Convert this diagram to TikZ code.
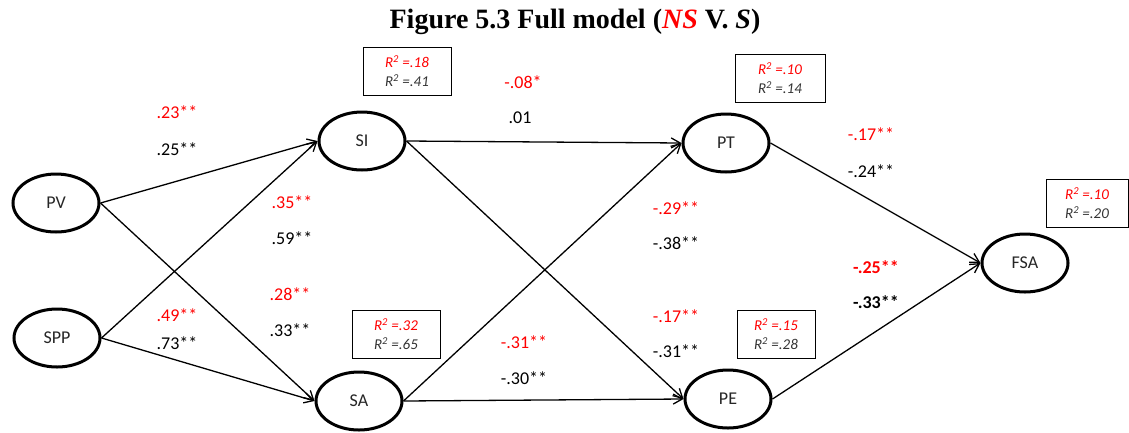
\documentclass[tikz,border=0pt]{standalone}
\usepackage{fontspec}
\setmainfont{Carlito}
\newfontfamily\titlefont{Liberation Serif}
\usetikzlibrary{arrows.meta,shapes.geometric}
\definecolor{nsred}{RGB}{255,0,0}
\begin{document}
\begin{tikzpicture}[x=1pt,y=-1pt,
  lat/.style={draw,ellipse,line width=3pt,minimum width=86pt,minimum height=58pt,inner sep=0pt,font=\fontsize{18}{20}\selectfont,text=black!85},
  path/.style={line width=1.3pt,-{Straight Barb[length=9pt,width=10pt,line width=1.3pt]}},
  rbox/.style={draw,line width=0.8pt,minimum width=86pt,minimum height=48pt,inner sep=2pt,align=center,font=\fontsize{15}{19}\selectfont\itshape},
  ns/.style={text=nsred,font=\fontsize{18}{20}\selectfont},
  sv/.style={text=black,font=\fontsize{18}{20}\selectfont}]
\useasboundingbox (0,0) rectangle (1129,432);
\node[font=\titlefont\bfseries\fontsize{28}{30}\selectfont] (title) at (575,22) {Figure 5.3 Full model ({\color{nsred}\itshape NS} V. \textit{S})};

\node[lat] (PV) at (56,203) {PV};
\node[lat] (SPP) at (57,338) {SPP};
\node[lat] (SI) at (362,141) {SI};
\node[lat] (SA) at (359,401) {SA};
\node[lat] (PT) at (726,143) {PT};
\node[lat] (PE) at (728,399) {PE};
\node[lat] (FSA) at (1025,263) {FSA};

\node[rbox,minimum width=88pt] (bSI) at (407,71) {{\color{nsred}R\textsuperscript{2} =.18}\\ {\color{black!80}R\textsuperscript{2} =.41}};
\node[rbox,minimum width=90pt] (bPT) at (780,78) {{\color{nsred}R\textsuperscript{2} =.10}\\ {\color{black!80}R\textsuperscript{2} =.14}};
\node[rbox,minimum width=82pt] (bFSA) at (1087,203) {{\color{nsred}R\textsuperscript{2} =.10}\\ {\color{black!80}R\textsuperscript{2} =.20}};
\node[rbox,minimum width=88pt] (bSA) at (396,334) {{\color{nsred}R\textsuperscript{2} =.32}\\ {\color{black!80}R\textsuperscript{2} =.65}};
\node[rbox,minimum width=78pt] (bPE) at (776,334) {{\color{nsred}R\textsuperscript{2} =.15}\\ {\color{black!80}R\textsuperscript{2} =.28}};

\draw[path] (PV.east) -- (SI.west);
\draw[path] (PV.east) -- (SA.west);
\draw[path] (SPP.east) -- (SI.west);
\draw[path] (SPP.east) -- (SA.west);
\draw[path] (SI.east) -- (PT.west);
\draw[path] (SI.east) -- (PE.west);
\draw[path] (SA.east) -- (PT.west);
\draw[path] (SA.east) -- (PE.west);
\draw[path] (PT.east) -- (FSA.west);
\draw[path] (PE.east) -- (FSA.west);

\node[ns] (l1a) at (177,112) {.23**};
\node[sv] (l1b) at (177,149) {.25**};
\node[ns] (l2a) at (292,202) {.35**};
\node[sv] (l2b) at (292,238) {.59**};
\node[ns] (l3a) at (290,294) {.28**};
\node[sv] (l3b) at (290,330) {.33**};
\node[ns] (l4a) at (177,315) {.49**};
\node[sv] (l4b) at (177,343) {.73**};
\node[ns] (l5a) at (523,82) {-.08*};
\node[sv] (l5b) at (520,118) {.01};
\node[ns] (l6a) at (676,208) {-.29**};
\node[sv] (l6b) at (676,243) {-.38**};
\node[ns] (l7a) at (676,316) {-.17**};
\node[sv] (l7b) at (676,351) {-.31**};
\node[ns] (l8a) at (524,342) {-.31**};
\node[sv] (l8b) at (524,378) {-.30**};
\node[ns] (l9a) at (871,134) {-.17**};
\node[sv] (l9b) at (871,171) {-.24**};
\node[ns,font=\bfseries\fontsize{18}{20}\selectfont] (l10a) at (876,267) {-.25**};
\node[sv,font=\bfseries\fontsize{18}{20}\selectfont] (l10b) at (876,302) {-.33**};
\end{tikzpicture}
\end{document}
